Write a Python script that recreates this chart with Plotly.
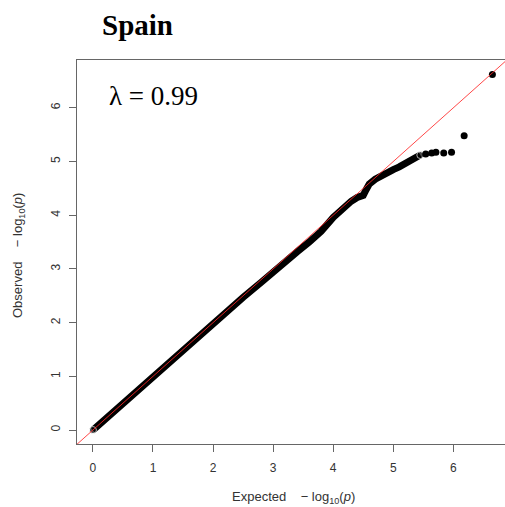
import plotly.graph_objects as go

# Bulk of the QQ band (expected vs observed -log10 p)
bulk_expected = [0.0, 0.5, 1.0, 1.5, 2.0, 2.5, 2.8, 3.0, 3.2, 3.4, 3.6, 3.8, 4.0, 4.1, 4.2,
                 4.3, 4.4, 4.5, 4.55, 4.6, 4.7, 4.8, 4.9, 5.0, 5.1, 5.2, 5.3, 5.4, 5.45]
bulk_observed = [0.0, 0.5, 0.99, 1.49, 1.98, 2.47, 2.75, 2.95, 3.14, 3.32, 3.50, 3.70, 3.96, 4.07, 4.17,
                 4.26, 4.33, 4.37, 4.48, 4.58, 4.67, 4.74, 4.79, 4.85, 4.90, 4.96, 5.04, 5.09, 5.12]
# Individual tail points
tail_expected = [5.54, 5.64, 5.71, 5.84, 5.97, 6.18, 6.65]
tail_observed = [5.14, 5.16, 5.17, 5.16, 5.17, 5.48, 6.62]

x_ticks = [0, 1, 2, 3, 4, 5, 6]
y_ticks = [0, 1, 2, 3, 4, 5, 6]
title_text = "Spain"
lambda_text = "λ = 0.99"
x_range = [-0.265, 6.86]
y_range = [-0.26, 6.89]

W, H = 505, 507
ML, MR, MT, MB = 77, 0, 60, 63
PW, PH = W - ML - MR, H - MT - MB

def px(x):
    return (x - ML) / PW

def py(y):
    return (H - MB - y) / PH

fig = go.Figure()
bulk_sizes = [7] + [0] * (len(bulk_expected) - 2) + [7]
fig.add_trace(go.Scatter(x=bulk_expected, y=bulk_observed, mode="lines+markers",
                         line=dict(color="black", width=7),
                         marker=dict(color="black", size=bulk_sizes),
                         showlegend=False, hoverinfo="skip"))
fig.add_trace(go.Scatter(x=tail_expected, y=tail_observed, mode="markers",
                         marker=dict(color="black", size=7),
                         showlegend=False, hoverinfo="skip"))
fig.add_trace(go.Scatter(x=[-1, 8], y=[-1, 8], mode="lines",
                         line=dict(color="rgba(255,40,40,0.85)", width=1),
                         showlegend=False, hoverinfo="skip"))

axis_common = dict(showgrid=False, zeroline=False, showline=True, linecolor="#666",
                   linewidth=1, ticks="outside", ticklen=7, tickcolor="#666", tickwidth=1,
                   tickfont=dict(family="Liberation Sans", size=12, color="#333"))

fig.update_xaxes(range=x_range, tickvals=x_ticks, ticktext=[str(v) for v in x_ticks],
                 mirror=True, ticklabelstandoff=6, **axis_common)
fig.update_yaxes(range=y_range, tickvals=y_ticks, ticktext=[str(v) for v in y_ticks],
                 tickangle=-90, ticklabelstandoff=4, **axis_common)

sp = "\u00a0" * 4
anns = [
    dict(text="<b>" + title_text + "</b>", x=px(100), y=py(25), xanchor="left", yanchor="middle",
         font=dict(family="Liberation Serif", size=29, color="black")),
    dict(text=lambda_text, x=px(107), y=py(96), xanchor="left", yanchor="middle",
         font=dict(family="Liberation Serif", size=27, color="black")),
    dict(text="Expected" + sp + "\u2212 log<sub>10</sub>(<i>p</i>)", x=px(293), y=py(497),
         xanchor="center", yanchor="middle",
         font=dict(family="Liberation Sans", size=13, color="#333")),
    dict(text="Observed" + sp + "\u2212 log<sub>10</sub>(<i>p</i>)", x=px(18), y=py(256),
         xanchor="center", yanchor="middle", textangle=-90,
         font=dict(family="Liberation Sans", size=13, color="#333")),
]
for a in anns:
    a.update(xref="paper", yref="paper", showarrow=False)
fig.update_layout(annotations=anns)

fig.update_layout(width=W, height=H, margin=dict(l=ML, r=MR, t=MT, b=MB, pad=0),
                  paper_bgcolor="white", plot_bgcolor="white")

fig.write_html("out.html")
